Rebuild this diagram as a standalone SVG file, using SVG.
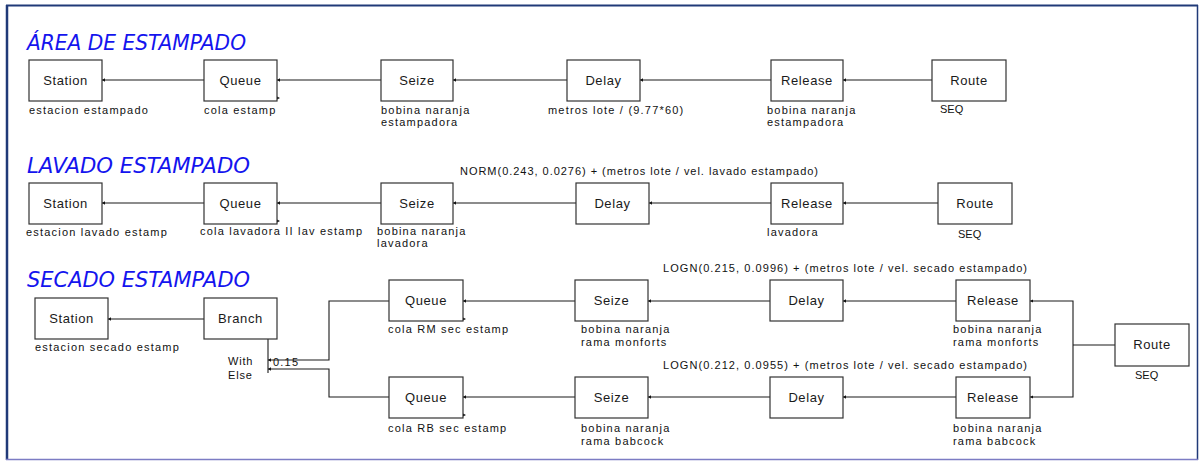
<svg xmlns="http://www.w3.org/2000/svg" width="1201" height="461" viewBox="0 0 1201 461">
  <style>
    .title { font-family: "DejaVu Sans", "Liberation Sans", sans-serif; font-style: italic; font-size: 21px; fill: #1414ee; }
    .box { fill: #ffffff; stroke: #333333; stroke-width: 1.2; }
    .name { font-family: "Liberation Sans", Arial, sans-serif; font-size: 13px; letter-spacing: 0.6px; fill: #1a1a1a; text-anchor: middle; }
    .lbl { font-family: "Liberation Sans", Arial, sans-serif; font-size: 11px; letter-spacing: 1.2px; fill: #111111; }
    .expr { font-family: "Liberation Sans", Arial, sans-serif; font-size: 11px; fill: #111111; }
    .wire { fill: none; stroke: #1a1a1a; stroke-width: 1.1; }
    .pt { fill: #111111; }
  </style>
  <defs>
    <!-- small connection point drawn at the start of each wire -->
    <marker id="tip" markerUnits="userSpaceOnUse" markerWidth="4" markerHeight="4" refX="0" refY="1.75" orient="auto">
      <path d="M3,0 L0,1.75 L3,3.5 z" fill="#111111"/>
    </marker>
  </defs>

  <!-- frame -->
  <rect x="0" y="0" width="1201" height="461" fill="#ffffff"/>
  <g id="frame">
    <line x1="6" y1="5.5" x2="1198" y2="5.5" stroke="#203a78" stroke-width="2"/>
    <line x1="7" y1="5" x2="7" y2="460" stroke="#203a78" stroke-width="2.5"/>
    <line x1="1197.5" y1="5" x2="1197.5" y2="460" stroke="#203a78" stroke-width="1.5"/>
    <line x1="6" y1="459.5" x2="1198" y2="459.5" stroke="#7c7cc4" stroke-width="1.5"/>
  </g>

  <!-- section titles -->
  <text class="title" x="27" y="50" textLength="219" lengthAdjust="spacingAndGlyphs">ÁREA DE ESTAMPADO</text>
  <text class="title" x="27" y="173" textLength="223" lengthAdjust="spacingAndGlyphs">LAVADO ESTAMPADO</text>
  <text class="title" x="27" y="287" textLength="223" lengthAdjust="spacingAndGlyphs">SECADO ESTAMPADO</text>

  <!-- connectors -->
  <g id="connectors">
    <!-- stamping area -->
    <line class="wire" x1="102" y1="80" x2="204" y2="80" marker-start="url(#tip)"/>
    <line class="wire" x1="277" y1="80" x2="381" y2="80" marker-start="url(#tip)"/>
    <line class="wire" x1="453" y1="80" x2="567" y2="80" marker-start="url(#tip)"/>
    <line class="wire" x1="640" y1="80" x2="771" y2="80" marker-start="url(#tip)"/>
    <line class="wire" x1="843" y1="80" x2="932" y2="80" marker-start="url(#tip)"/>
    <polygon class="pt" points="277,96.5 280,98 277,99.5"/>
    <!-- washing -->
    <line class="wire" x1="102" y1="203" x2="204" y2="203" marker-start="url(#tip)"/>
    <line class="wire" x1="277" y1="203" x2="381" y2="203" marker-start="url(#tip)"/>
    <line class="wire" x1="453" y1="203" x2="576" y2="203" marker-start="url(#tip)"/>
    <line class="wire" x1="649" y1="203" x2="771" y2="203" marker-start="url(#tip)"/>
    <line class="wire" x1="843" y1="203" x2="938" y2="203" marker-start="url(#tip)"/>
    <polygon class="pt" points="277,219.5 280,221 277,222.5"/>
    <!-- drying -->
    <line class="wire" x1="108" y1="319" x2="204" y2="319" marker-start="url(#tip)"/>
    <line class="wire" x1="268" y1="339" x2="268" y2="373"/>
    <polyline class="wire" points="268,360 329,360 329,301 389,301" marker-start="url(#tip)"/>
    <polyline class="wire" points="268,369 329,369 329,397 389,397" marker-start="url(#tip)"/>
    <line class="wire" x1="463" y1="301" x2="575" y2="301" marker-start="url(#tip)"/>
    <line class="wire" x1="463" y1="397" x2="575" y2="397" marker-start="url(#tip)"/>
    <polygon class="pt" points="463,317.5 466,319 463,320.5"/>
    <polygon class="pt" points="463,413.5 466,415 463,416.5"/>
    <line class="wire" x1="648" y1="301" x2="770" y2="301" marker-start="url(#tip)"/>
    <line class="wire" x1="648" y1="397" x2="770" y2="397" marker-start="url(#tip)"/>
    <line class="wire" x1="843" y1="301" x2="956" y2="301" marker-start="url(#tip)"/>
    <line class="wire" x1="843" y1="397" x2="956" y2="397" marker-start="url(#tip)"/>
    <polyline class="wire" points="1030,301 1073,301 1073,397 1030,397"/>
    <polygon class="pt" points="1033,299.5 1030,301 1033,302.5"/>
    <polygon class="pt" points="1033,395.5 1030,397 1033,398.5"/>
    <line class="wire" x1="1073" y1="345" x2="1115" y2="345"/>
  </g>

  <!-- stamping area modules -->
  <g id="a-station"><rect class="box" x="29" y="60" width="73" height="41"/><text class="name" x="65.5" y="85">Station</text><text class="lbl" x="29" y="114">estacion estampado</text></g>
  <g id="a-queue"><rect class="box" x="204" y="60" width="73" height="41"/><text class="name" x="240.5" y="85">Queue</text><text class="lbl" x="204" y="114">cola estamp</text></g>
  <g id="a-seize"><rect class="box" x="381" y="60" width="72" height="41"/><text class="name" x="417" y="85">Seize</text><text class="lbl" x="381" y="114">bobina naranja</text><text class="lbl" x="381" y="126">estampadora</text></g>
  <g id="a-delay"><rect class="box" x="567" y="60" width="73" height="41"/><text class="name" x="603.5" y="85">Delay</text><text class="lbl" x="548" y="114">metros lote / (9.77*60)</text></g>
  <g id="a-release"><rect class="box" x="771" y="60" width="72" height="41"/><text class="name" x="807" y="85">Release</text><text class="lbl" x="767" y="114">bobina naranja</text><text class="lbl" x="767" y="126">estampadora</text></g>
  <g id="a-route"><rect class="box" x="932" y="60" width="74" height="41"/><text class="name" x="969" y="85">Route</text><text class="expr" x="940" y="113">SEQ</text></g>

  <!-- washing modules -->
  <g id="l-station"><rect class="box" x="29" y="183" width="73" height="41"/><text class="name" x="65.5" y="208">Station</text><text class="lbl" x="26" y="236">estacion lavado estamp</text></g>
  <g id="l-queue"><rect class="box" x="204" y="183" width="73" height="41"/><text class="name" x="240.5" y="208">Queue</text><text class="lbl" x="200" y="235">cola lavadora II lav estamp</text></g>
  <g id="l-seize"><rect class="box" x="381" y="183" width="72" height="41"/><text class="name" x="417" y="208">Seize</text><text class="lbl" x="377" y="235">bobina naranja</text><text class="lbl" x="377" y="247">lavadora</text></g>
  <g id="l-delay"><rect class="box" x="576" y="183" width="73" height="41"/><text class="name" x="612.5" y="208">Delay</text><text class="expr" x="460" y="175" textLength="358">NORM(0.243, 0.0276) + (metros lote / vel. lavado estampado)</text></g>
  <g id="l-release"><rect class="box" x="771" y="183" width="72" height="41"/><text class="name" x="807" y="208">Release</text><text class="lbl" x="767" y="236">lavadora</text></g>
  <g id="l-route"><rect class="box" x="938" y="183" width="74" height="41"/><text class="name" x="975" y="208">Route</text><text class="expr" x="958" y="238">SEQ</text></g>

  <!-- drying modules -->
  <g id="s-station"><rect class="box" x="35" y="298" width="73" height="41"/><text class="name" x="71.5" y="323">Station</text><text class="lbl" x="35" y="351">estacion secado estamp</text></g>
  <g id="s-branch"><rect class="box" x="204" y="298" width="73" height="41"/><text class="name" x="240.5" y="323">Branch</text>
    <text class="expr" x="228" y="365" letter-spacing="0.8">With</text><text class="expr" x="228" y="379" letter-spacing="0.8">Else</text><text class="lbl" x="273" y="366" letter-spacing="0.8">0.15</text></g>
  <g id="s-queue-rm"><rect class="box" x="389" y="280" width="74" height="41"/><text class="name" x="426" y="305">Queue</text><text class="lbl" x="388" y="333">cola RM sec estamp</text></g>
  <g id="s-seize-rm"><rect class="box" x="575" y="280" width="73" height="41"/><text class="name" x="611.5" y="305">Seize</text><text class="lbl" x="581" y="333">bobina naranja</text><text class="lbl" x="581" y="346">rama monforts</text></g>
  <g id="s-delay-rm"><rect class="box" x="770" y="280" width="73" height="41"/><text class="name" x="806.5" y="305">Delay</text><text class="expr" x="663" y="272" textLength="364">LOGN(0.215, 0.0996) + (metros lote / vel. secado estampado)</text></g>
  <g id="s-release-rm"><rect class="box" x="956" y="280" width="74" height="41"/><text class="name" x="993" y="305">Release</text><text class="lbl" x="953" y="333">bobina naranja</text><text class="lbl" x="953" y="346">rama monforts</text></g>
  <g id="s-queue-rb"><rect class="box" x="389" y="377" width="74" height="41"/><text class="name" x="426" y="402">Queue</text><text class="lbl" x="388" y="432">cola RB sec estamp</text></g>
  <g id="s-seize-rb"><rect class="box" x="575" y="377" width="73" height="41"/><text class="name" x="611.5" y="402">Seize</text><text class="lbl" x="581" y="432">bobina naranja</text><text class="lbl" x="581" y="445">rama babcock</text></g>
  <g id="s-delay-rb"><rect class="box" x="770" y="377" width="73" height="41"/><text class="name" x="806.5" y="402">Delay</text><text class="expr" x="663" y="369" textLength="364">LOGN(0.212, 0.0955) + (metros lote / vel. secado estampado)</text></g>
  <g id="s-release-rb"><rect class="box" x="956" y="377" width="74" height="41"/><text class="name" x="993" y="402">Release</text><text class="lbl" x="953" y="432">bobina naranja</text><text class="lbl" x="953" y="445">rama babcock</text></g>
  <g id="s-route"><rect class="box" x="1115" y="324" width="74" height="42"/><text class="name" x="1152" y="349">Route</text><text class="expr" x="1135" y="379">SEQ</text></g>
</svg>
